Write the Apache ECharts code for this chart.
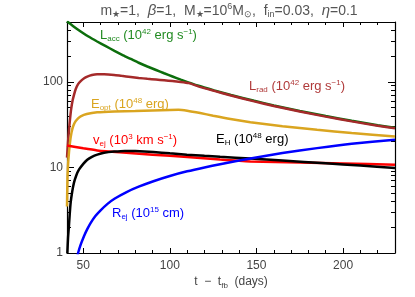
<!DOCTYPE html>
<html><head><meta charset="utf-8">
<script src="https://cdn.jsdelivr.net/npm/echarts@6/dist/echarts.min.js"></script>
<style>html,body{margin:0;padding:0;background:#fff}#c{width:415px;height:297px}</style>
</head><body><div id="c"></div>
<script>
// ---- axis ticks ----
const X_MIN = 40.6, X_MAX = 230;
const Y_MIN = 1, Y_MAX = 500;
const xMajor = [50, 100, 150, 200];
const xMinor = [60, 70, 80, 90, 110, 120, 130, 140, 160, 170, 180, 190, 210, 220];
const yMajor = [1, 10, 100];
const yMinor = [2, 3, 4, 5, 6, 7, 8, 9, 20, 30, 40, 50, 60, 70, 80, 90, 200, 300, 400];

// ---- series (t - t_fb in days, value) ----
const lAccT = [40.6, 44, 48.5, 53, 58, 63, 68, 73, 77.4, 82, 87, 92, 96.7, 101.5, 106.3, 111, 116, 125.6, 135.3, 148.7, 160, 175, 190, 205, 220, 230];
const lAccV = [510, 450, 388, 338, 296, 261, 230, 204, 185, 167, 151, 137.5, 126, 115.5, 106, 98, 90.5, 79.5, 70.2, 60, 53, 45.6, 39.8, 35, 31.1, 29];

const lRadT = [40.6, 41.2, 41.8, 42.3, 43, 43.8, 44.6, 45.6, 47, 48.5, 50.5, 52.3, 55, 58, 62, 67.8, 72, 77.4, 82, 87, 92, 96.7, 101.5, 106.3, 111, 116, 125.6, 135.3, 148.7, 160, 175, 190, 205, 220, 230];
const lRadV = [13, 20, 28, 36, 48, 60, 70, 82, 94, 102, 110, 115, 120, 122.5, 122.5, 120.5, 117.5, 114, 111, 108.5, 106.3, 104.2, 102, 99.8, 96.5, 89, 78.3, 69.1, 59.1, 52.2, 44.9, 39.2, 34.5, 30.6, 28.6];

const eOptT = [40.6, 40.9, 41.4, 42.3, 43.2, 44.2, 45.5, 47, 48.5, 52, 58, 68, 80, 90, 100, 105, 110, 117.5, 125, 135, 146.5, 165, 185, 205, 230];
const eOptV = [3.5, 8, 12.3, 19.3, 25.5, 30.5, 34.5, 37.5, 39.5, 42, 44, 45, 45.5, 46.3, 47, 47.2, 46, 43.2, 40.2, 36.8, 33.8, 30.3, 27.5, 25.2, 23];

const vEjT = [40.6, 50, 58, 71, 90, 110, 129, 146.5, 175, 200, 230];
const vEjV = [18, 16.7, 15.8, 15.0, 14.1, 13.2, 12.35, 11.75, 11.4, 11.1, 10.75];

const eHT = [40.8, 41.2, 41.7, 42.2, 42.7, 43.6, 44.6, 46, 47.5, 50, 52.3, 55, 58.1, 62, 67.8, 74, 80, 90.5, 100, 109.8, 120, 129, 146.5, 165, 190, 210, 230];
const eHV = [1.0, 1.5, 2.05, 2.9, 3.85, 5.2, 6.6, 8.1, 9.4, 11.0, 12.3, 13.3, 14.1, 14.8, 15.3, 15.6, 15.5, 15.1, 14.6, 14.1, 13.65, 13.3, 12.7, 12.05, 11.15, 10.5, 9.85];

const rEjT = [46.5, 47, 48.5, 50.4, 52.3, 54.3, 57, 60, 64, 68, 75, 82, 90.5, 100, 110, 120, 129, 146.5, 165, 185, 205, 230];
const rEjV = [0.9, 1.0, 1.25, 1.57, 1.9, 2.25, 2.7, 3.15, 3.75, 4.3, 5.15, 5.95, 6.9, 7.95, 9.0, 10.0, 10.9, 12.7, 14.7, 16.8, 18.9, 21.1];

const FONT = '"Liberation Sans", Arial, sans-serif';
const zip = (t, v) => t.map((x, i) => [x, v[i]]);

function xAx(pos, vals, len, withLine, withLabel) {
  return {
    type: 'value', gridIndex: 0, position: pos, min: X_MIN, max: X_MAX,
    axisLine: { show: withLine, onZero: false, lineStyle: { color: '#000', width: 1.2 } },
    axisTick: { show: true, inside: true, length: len, customValues: vals, lineStyle: { color: '#000', width: 1 } },
    axisLabel: { show: withLabel, customValues: vals, color: '#444', fontSize: 12, margin: 7, fontFamily: FONT },
    splitLine: { show: false }
  };
}
function yAx(pos, vals, len, withLine, withLabel) {
  return {
    type: 'log', logBase: 10, gridIndex: 0, position: pos, min: Y_MIN, max: Y_MAX,
    axisLine: { show: withLine, onZero: false, lineStyle: { color: '#000', width: 1.2 } },
    axisTick: { show: true, inside: true, length: len, customValues: vals, lineStyle: { color: '#000', width: 1 } },
    axisLabel: { show: withLabel, customValues: vals, color: '#444', fontSize: 12, margin: 4, fontFamily: FONT,
      formatter: v => String(Math.round(v)) },
    splitLine: { show: false }, minorTick: { show: false }
  };
}

function line(name, t, v, color) {
  return {
    name, type: 'line', xAxisIndex: 0, yAxisIndex: 0, data: zip(t, v),
    showSymbol: false, symbol: 'none', smooth: 0.2,
    lineStyle: { color, width: 2.5 }, itemStyle: { color }, clip: true, animation: false
  };
}

const RICH = (c, fs) => ({
  n: { fontSize: fs, fontFamily: FONT, fill: c, color: c },
  b: { fontSize: Math.round(fs * 0.65), fontFamily: FONT, fill: c, color: c, padding: [Math.round(fs * 0.55), 0, 0, 0] },
  p: { fontSize: Math.round(fs * 0.65), fontFamily: FONT, fill: c, color: c, padding: [0, 0, Math.round(fs * 0.55), 0] },
  g: { fontSize: fs + 1, fontFamily: FONT, fontStyle: 'italic', fill: c, color: c }
});
function txt(x, y, str, color, fs, align) {
  return {
    type: 'text', x, y, z: 100,
    style: { text: str, rich: RICH(color, fs), fill: color, font: fs + 'px ' + FONT,
      align: align || 'left', verticalAlign: 'middle', textAlign: align || 'left', textVerticalAlign: 'middle' }
  };
}

const chart = echarts.init(document.getElementById('c'), null, { renderer: 'canvas' });
chart.setOption({
  animation: false,
  backgroundColor: '#fff',
  grid: { left: 67, right: 20, top: 22, bottom: 44, containLabel: false },
  xAxis: [
    xAx('bottom', xMajor, 5, true, true),
    xAx('top', xMajor, 5, true, false),
    xAx('bottom', xMinor, 3, false, false),
    xAx('top', xMinor, 3, false, false)
  ],
  yAxis: [
    yAx('left', yMajor, 7, true, true),
    yAx('right', yMajor, 7, true, false),
    yAx('left', yMinor, 4, false, false),
    yAx('right', yMinor, 4, false, false)
  ],
  series: [
    line('L_acc', lAccT, lAccV, '#0c6e0c'),
    line('L_rad', lRadT, lRadV, '#a52a2a'),
    line('E_opt', eOptT, eOptV, '#daa520'),
    line('v_ej', vEjT, vEjV, '#ff0000'),
    line('E_H', eHT, eHV, '#000000'),
    line('R_ej', rEjT, rEjV, '#0000ff')
  ],
  graphic: [
    txt(229, 11, '{n|m}{b|★}{n|=1,  }{g|β}{n|=1,  M}{b|★}{n|=10}{p|6}{n|M}{b|⊙}{n|,  f}{b|in}{n|=0.03,  }{g|η}{n|=0.1}', '#555', 14, 'center'),
    txt(100, 35, '{n|L}{b|acc}{n| (10}{p|42}{n| erg s}{p|−1}{n|)}', '#228b22', 13),
    txt(249, 86, '{n|L}{b|rad}{n| (10}{p|42}{n| erg s}{p|−1}{n|)}', '#b03a3a', 13),
    txt(91, 104, '{n|E}{b|opt}{n| (10}{p|48}{n| erg)}', '#daa520', 13),
    txt(93, 140, '{n|v}{b|ej}{n| (10}{p|3}{n| km s}{p|−1}{n|)}', '#ff0000', 13),
    txt(216, 139, '{n|E}{b|H}{n| (10}{p|48}{n| erg)}', '#000000', 13),
    txt(112, 213, '{n|R}{b|ej}{n| (10}{p|15}{n| cm)}', '#0000ff', 13),
    txt(231, 282, '{n|t  −  t}{b|fb}{n|  (days)}', '#444', 12, 'center')
  ]
});
</script></body></html>
